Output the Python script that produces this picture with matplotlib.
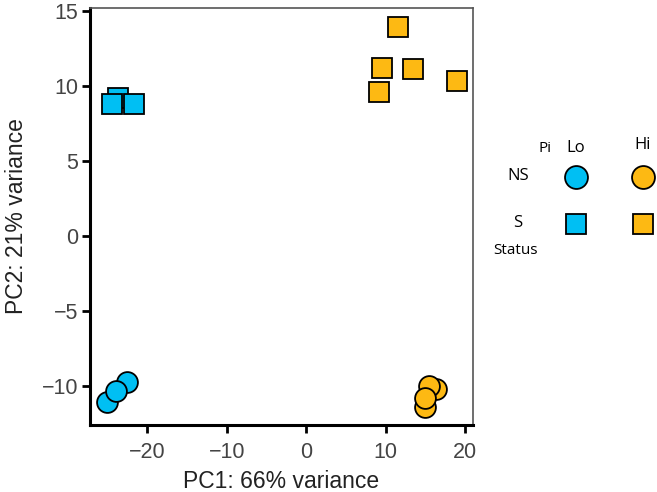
import matplotlib.pyplot as plt

# PCA scores (listed in drawing order)
lo_s_x = [-23.7, -24.4, -21.7]
lo_s_y = [9.2, 8.8, 8.8]
hi_s_x = [11.5, 9.6, 13.5, 9.2, 19.0]
hi_s_y = [13.9, 11.2, 11.1, 9.6, 10.3]
lo_ns_x = [-25.0, -22.5, -23.9]
lo_ns_y = [-11.05, -9.7, -10.3]
hi_ns_x = [14.9, 16.3, 15.5, 15.0]
hi_ns_y = [-11.4, -10.2, -10.0, -10.8]

x_ticks = [-20, -10, 0, 10, 20]
y_ticks = [-10, -5, 0, 5, 10, 15]

pi_levels = ['Lo', 'Hi']
status_levels = ['NS', 'S']

blue = '#00BFF3'
orange = '#FDB913'

fig = plt.figure(figsize=(6.57, 4.92), dpi=100)
ax = fig.add_axes([0.137, 0.136, 0.583, 0.848])

kw = dict(linestyle='none', markeredgecolor='black', markeredgewidth=1.3)
ax.plot(lo_s_x, lo_s_y, marker='s', color=blue, markersize=14, **kw)
ax.plot(hi_s_x, hi_s_y, marker='s', color=orange, markersize=14, **kw)
ax.plot(lo_ns_x, lo_ns_y, marker='o', color=blue, markersize=15, **kw)
ax.plot(hi_ns_x, hi_ns_y, marker='o', color=orange, markersize=15, **kw)

ax.set_xlim(-27.2, 21.0)
ax.set_ylim(-12.6, 15.2)
ax.set_xticks(x_ticks)
ax.set_yticks(y_ticks)
ax.set_xticklabels([str(t).replace('-', '\u2212') for t in x_ticks])
ax.set_yticklabels([str(t).replace('-', '\u2212') for t in y_ticks])

for s in ['left', 'bottom']:
    ax.spines[s].set_linewidth(2.2)
    ax.spines[s].set_color('black')
for s in ['top', 'right']:
    ax.spines[s].set_linewidth(1.2)
    ax.spines[s].set_color('#555555')

ax.tick_params(direction='out', length=5.5, width=2, colors='black',
               labelsize=15.5, labelcolor='#444444')
ax.tick_params(axis='x', pad=7)
ax.tick_params(axis='y', pad=3)
for lab in ax.get_xticklabels() + ax.get_yticklabels():
    lab.set_family('Liberation Sans')

ax.set_xlabel('PC1: 66% variance', fontsize=16.5, family='Liberation Sans', color='#222222', labelpad=5)
ax.set_ylabel('PC2: 21% variance', fontsize=16.5, family='Liberation Sans', color='#222222', labelpad=10)

# Custom legend: Pi (Lo / Hi) across, Status (NS / S) down, in figure pixels
lax = fig.add_axes([0, 0, 1, 1])
lax.set_xlim(0, 657)
lax.set_ylim(492, 0)
lax.axis('off')
col_x = [575.5, 643]
row_y = [177, 224]
status_markers = ['o', 's']
status_sizes = [16.5, 14]
pi_colors = [blue, orange]
lfont = 'Open Sans'
for i, st in enumerate(status_levels):
    for j, pi in enumerate(pi_levels):
        lax.plot(col_x[j], row_y[i], marker=status_markers[i], color=pi_colors[j],
                 markersize=status_sizes[i], **kw)
    lax.text(518, row_y[i] - 1, st, ha='center', va='center', fontsize=12, family=lfont)
lax.text(col_x[0], 148, pi_levels[0], ha='center', va='center', fontsize=12, family=lfont)
lax.text(col_x[1], 145, pi_levels[1], ha='center', va='center', fontsize=12, family=lfont)
lax.text(545, 148, 'Pi', ha='center', va='center', fontsize=11, family=lfont)
lax.text(515.5, 250, 'Status', ha='center', va='center', fontsize=11, family=lfont)

plt.savefig('out.png', dpi=100)
